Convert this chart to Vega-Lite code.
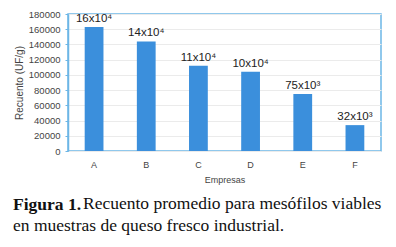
{
  "$schema": "https://vega.github.io/schema/vega-lite/v6.json",
  "autosize": "none",
  "width": 313,
  "height": 137,
  "padding": {"left": 68, "top": 14, "right": 15, "bottom": 96},
  "background": "white",
  "data": {"values": [
    {"empresa": "A", "recuento": 163000, "etiqueta": "16x10⁴"},
    {"empresa": "B", "recuento": 144000, "etiqueta": "14x10⁴"},
    {"empresa": "C", "recuento": 112000, "etiqueta": "11x10⁴"},
    {"empresa": "D", "recuento": 104000, "etiqueta": "10x10⁴"},
    {"empresa": "E", "recuento": 75000, "etiqueta": "75x10³"},
    {"empresa": "F", "recuento": 34000, "etiqueta": "32x10³"}
  ]},
  "title": {
    "text": "Figura 1.",
    "subtitle": ["\u200b\u00a0\u00a0\u00a0\u00a0\u00a0\u00a0\u00a0\u00a0\u00a0\u00a0\u00a0\u00a0\u00a0\u00a0\u00a0\u00a0Recuento promedio para mesófilos viables", "en muestras de queso fresco industrial."],
    "orient": "bottom",
    "anchor": "start",
    "frame": "group",
    "dx": -55,
    "offset": 12,
    "font": "Liberation Serif",
    "fontSize": 17.5,
    "fontWeight": "bold",
    "color": "#111",
    "subtitleFont": "Liberation Serif",
    "subtitleFontSize": 17.5,
    "subtitleColor": "#111",
    "subtitleLineHeight": 22,
    "subtitlePadding": -19
  },
  "config": {
    "view": {"stroke": "#6cb6e6", "strokeWidth": 1.5},
    "axis": {"labelFont": "Liberation Sans", "titleFont": "Liberation Sans", "labelColor": "#444", "titleColor": "#444", "titleFontWeight": "normal"}
  },
  "encoding": {
    "x": {"field": "empresa", "type": "nominal",
      "scale": {"paddingInner": 0.64, "paddingOuter": 0.32},
      "axis": {"title": "Empresas", "labelAngle": 0, "labelFontSize": 9, "titleFontSize": 9, "domain": false, "ticks": false, "labelPadding": 9, "titlePadding": 6}},
    "y": {"field": "recuento", "type": "quantitative",
      "scale": {"domain": [0, 180000], "nice": false},
      "axis": {"title": "Recuento (UF/g)", "values": [0,20000,40000,60000,80000,100000,120000,140000,160000,180000], "format": "d", "labelOverlap": false, "labelFontSize": 9.5, "titleFontSize": 10, "domainColor": "#6cb6e6", "domainWidth": 1.5, "tickColor": "#6cb6e6", "tickSize": 3, "labelPadding": 5, "titlePadding": 4, "gridColor": "#ebebeb", "gridWidth": 1}}
  },
  "layer": [
    {"mark": {"type": "bar", "color": "#3b8fdc"}},
    {"mark": {"type": "text", "baseline": "bottom", "dy": -3, "font": "Liberation Sans", "fontSize": 11.5, "color": "#222"},
     "encoding": {"text": {"field": "etiqueta"}}}
  ]
}
